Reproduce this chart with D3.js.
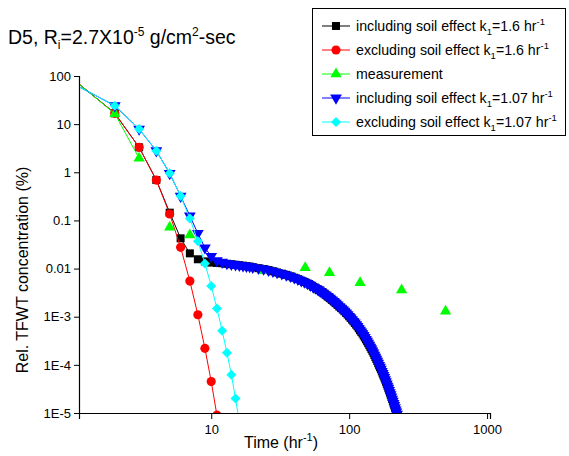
<!DOCTYPE html>
<html><head><meta charset="utf-8">
<script src="https://cdn.jsdelivr.net/npm/d3@7/dist/d3.min.js"></script>
<style>
body{margin:0;background:#fff;}
svg{display:block;font-family:Arial,"Liberation Sans",sans-serif;}
</style></head>
<body><svg id="c" width="569" height="456"></svg>
<script>
// ---- data ----
const redT = [1,2,3,4,5,6,7,8,9,10,11];
const redV = [85,16.8,3.3,0.69,0.136,0.0276,0.0055,0.0011,2.2e-4,4.5e-5,9e-6];

const blackHeadT = [1,2,3,4,5,6,7,8,9];
const blackHeadV = [85,16.8,3.3,0.69,0.145,0.0425,0.0207,0.0156,0.0141];

const cyanT = [1,2,3,4,5,6,7,8,9,10,11,12,13,14,15,16];
const cyanV = [69,24.2,7.9,2.8,0.95,0.32,0.11,0.037,0.0128,0.00434,0.00149,5.1e-4,1.79e-4,6.2e-5,2.0e-5,6.5e-6];

const blueHeadT = [1,2,3,4,5,6,7,8,9,10,11,12,13];
const blueHeadV = [69,24.2,7.9,2.8,0.95,0.32,0.124,0.054,0.027,0.018,0.0146,0.0136,0.0128];

// long tail shared by both "including soil effect" runs
const tailT = [10,11,12,13,14,15,16,17,18,19,20,22,24,26,28,
  30,32.5,35,37.5,40,42.5,45,47.5,50,52.5,55,57.5,60,62.5,65,67.5,70,72.5,75,77.5,80,82.5,85,87.5,90,92.5,95,97.5,
  100,102.5,105,107.5,110,112.5,115,117.5,120,122.5,125,127.5,130,132.5,135,137.5,140,142.5,145,147.5,150,152.5,
  155,157.5,160,162.5,165,167.5,170,172.5,175,177.5,180,182.5,185,187.5,190,192.5,195,197.5,200,202.5,
  205,207.5,210,212.5,215,217.5,220,222.5,225,227.5,230];
const tailV = [0.0133,0.0131,0.0129,0.0126,0.0123,0.0120,0.0117,0.0115,0.0112,0.0110,0.0107,0.0102,0.0098,0.0093,0.0088,
  8.32e-3,7.85e-3,7.41e-3,6.92e-3,6.46e-3,6.03e-3,5.62e-3,5.25e-3,4.90e-3,4.52e-3,4.17e-3,3.89e-3,3.63e-3,3.35e-3,
  3.09e-3,2.85e-3,2.63e-3,2.43e-3,2.24e-3,2.07e-3,1.91e-3,1.76e-3,1.62e-3,1.51e-3,1.41e-3,1.30e-3,1.20e-3,1.11e-3,
  1.02e-3,9.44e-4,8.71e-4,8.04e-4,7.41e-4,6.84e-4,6.31e-4,5.75e-4,5.25e-4,4.84e-4,4.47e-4,4.07e-4,3.72e-4,3.39e-4,
  3.09e-4,2.82e-4,2.57e-4,2.34e-4,2.14e-4,1.95e-4,1.78e-4,1.60e-4,1.45e-4,1.32e-4,1.20e-4,1.08e-4,9.77e-5,8.91e-5,
  8.13e-5,7.33e-5,6.61e-5,6.03e-5,5.50e-5,4.95e-5,4.47e-5,4.03e-5,3.63e-5,3.27e-5,2.95e-5,2.66e-5,2.40e-5,2.16e-5,
  1.95e-5,1.76e-5,1.58e-5,1.43e-5,1.29e-5,1.16e-5,1.05e-5,9.44e-6,8.51e-6,7.67e-6,6.92e-6];

const measT = [1,2,3,5,7,24,48,72,120,240,500];
const measV = [85,16.5,1.95,0.072,0.050,0.0090,0.0104,0.0082,0.0051,0.0036,0.0013];
const measLinked = 3; // only the first points are joined by a line

const xTickVals = [10,100,1000];
const xTickLabels = ["10","100","1000"];
const yTickVals = [100,10,1,0.1,0.01,1e-3,1e-4,1e-5];
const yTickLabels = ["100","10","1","0.1","0.01","1E-3","1E-4","1E-5"];

// ---- build ----
const svg = d3.select("#c");
const x = d3.scaleLog().domain([1.1,1050]).range([79,490]);
const y = d3.scaleLog().domain([1e-5,100]).range([413,76]);

const zip = (t,v)=>t.map((d,i)=>({t:d,v:v[i]}));
const blackData = zip(blackHeadT,blackHeadV).concat(zip(tailT,tailV));
const blueData = zip(blueHeadT,blueHeadV).concat(zip(tailT,tailV).filter(d=>d.t>blueHeadT[blueHeadT.length-1]));
const redData = zip(redT,redV);
const cyanData = zip(cyanT,cyanV);
const measData = zip(measT,measV);

svg.append("defs").append("clipPath").attr("id","clip")
  .append("rect").attr("x",79).attr("y",0).attr("width",411).attr("height",413);

const sym = {
  square: d3.symbol().type(d3.symbolSquare).size(64),
  circle: d3.symbol().type(d3.symbolCircle).size(66),
  triUp: d3.symbol().type(d3.symbolTriangle).size(55),
  triDown: d3.symbol().type(d3.symbolTriangle).size(60),
  diamond: d3.symbol().type(d3.symbolSquare).size(50)
};
const rot = {square:0,circle:0,triUp:0,triDown:180,diamond:45};

const series = [
  {data:blackData, color:"#000000", sym:"square", lineN:null},
  {data:redData, color:"#ff0000", sym:"circle", lineN:null},
  {data:measData, color:"#00ff00", sym:"triUp", lineN:measLinked},
  {data:blueData, color:"#0000ff", sym:"triDown", lineN:null},
  {data:cyanData, color:"#00ffff", sym:"diamond", lineN:null}
];
const line = d3.line().x(d=>x(d.t)).y(d=>y(d.v));
const plot = svg.append("g").attr("clip-path","url(#clip)");
series.forEach(s=>{
  const ld = s.lineN ? s.data.slice(0,s.lineN) : s.data;
  plot.append("path").datum(ld).attr("d",line).attr("fill","none")
    .attr("stroke",s.color).attr("stroke-width",1);
  plot.selectAll(null).data(s.data).enter().append("path")
    .attr("d",sym[s.sym]())
    .attr("transform",d=>`translate(${x(d.t)},${y(d.v)}) rotate(${rot[s.sym]})`)
    .attr("fill",s.color);
});

// ---- axes ----
const minorX = [];
[1,10,100].forEach(b=>{for(let k=2;k<=9;k++){const v=b*k; if(v>=1.1 && v<=1050) minorX.push(v);}});
const minorY = [];
[1e-5,1e-4,1e-3,1e-2,0.1,1,10].forEach(b=>{for(let k=2;k<=9;k++) minorY.push(b*k);});

const gx = svg.append("g").attr("transform","translate(0,413)");
gx.call(d3.axisBottom(x).tickValues(minorX).tickSize(3).tickFormat(""));
gx.call(d3.axisBottom(x).tickValues(xTickVals).tickSize(6).tickPadding(6)
  .tickFormat((d,i)=>xTickLabels[i]));
const gy = svg.append("g").attr("transform","translate(79,0)");
gy.call(d3.axisLeft(y).tickValues(minorY).tickSize(3).tickFormat(""));
gy.call(d3.axisLeft(y).tickValues(yTickVals).tickSize(5).tickPadding(3)
  .tickFormat((d,i)=>yTickLabels[i]));
svg.selectAll(".domain").attr("stroke","#000").attr("stroke-width",1.2);
svg.selectAll(".tick line").attr("stroke","#000");
svg.selectAll(".tick text").attr("font-size",13).attr("fill","#000")
  .attr("font-family","Arial, 'Liberation Sans', sans-serif");

// ---- titles ----
const t1 = svg.append("text").attr("x",8).attr("y",44).attr("font-size",19.5).attr("fill","#000");
t1.append("tspan").text("D5, R");
t1.append("tspan").attr("dy",5).attr("font-size",12).text("i");
t1.append("tspan").attr("dy",-5).text("=2.7X10");
t1.append("tspan").attr("dy",-8).attr("font-size",12).text("-5");
t1.append("tspan").attr("dy",8).text(" g/cm");
t1.append("tspan").attr("dy",-8).attr("font-size",12).text("2");
t1.append("tspan").attr("dy",8).text("-sec");

svg.append("text").attr("transform","translate(28,270) rotate(-90)")
  .attr("text-anchor","middle").attr("font-size",16).attr("fill","#000")
  .text("Rel. TFWT concentration (%)");

const xt = svg.append("text").attr("x",281).attr("y",448).attr("text-anchor","middle")
  .attr("font-size",16).attr("fill","#000");
xt.append("tspan").text("Time (hr");
xt.append("tspan").attr("dy",-7).attr("font-size",11).text("-1");
xt.append("tspan").attr("dy",7).text(")");

// ---- legend ----
const legendItems = [
  {pre:"including soil effect k", sub:"1", mid:"=1.6 hr", sup:"-1", s:series[0]},
  {pre:"excluding soil effect k", sub:"1", mid:"=1.6 hr", sup:"-1", s:series[1]},
  {pre:"measurement", sub:"", mid:"", sup:"", s:series[2]},
  {pre:"including soil effect k", sub:"1", mid:"=1.07 hr", sup:"-1", s:series[3]},
  {pre:"excluding soil effect k", sub:"1", mid:"=1.07 hr", sup:"-1", s:series[4]}
];
const lg = svg.append("g");
lg.append("rect").attr("x",312.5).attr("y",8.5).attr("width",253).attr("height",127)
  .attr("fill","#fff").attr("stroke","#000").attr("stroke-width",1);
legendItems.forEach((it,i)=>{
  const cy = 26 + i*24;
  lg.append("line").attr("x1",322).attr("x2",350).attr("y1",cy).attr("y2",cy)
    .attr("stroke",it.s.color).attr("stroke-width",1);
  lg.append("path").attr("d",sym[it.s.sym]())
    .attr("transform",`translate(336,${cy}) rotate(${rot[it.s.sym]})`).attr("fill",it.s.color);
  const tx = lg.append("text").attr("x",356).attr("y",cy+5).attr("font-size",14.2).attr("fill","#000");
  tx.append("tspan").text(it.pre);
  if(it.sub){
    tx.append("tspan").attr("dy",4).attr("font-size",9.5).text(it.sub);
    tx.append("tspan").attr("dy",-4).text(it.mid);
    tx.append("tspan").attr("dy",-6).attr("font-size",9.5).text(it.sup);
  }
});
</script>
</body></html>
